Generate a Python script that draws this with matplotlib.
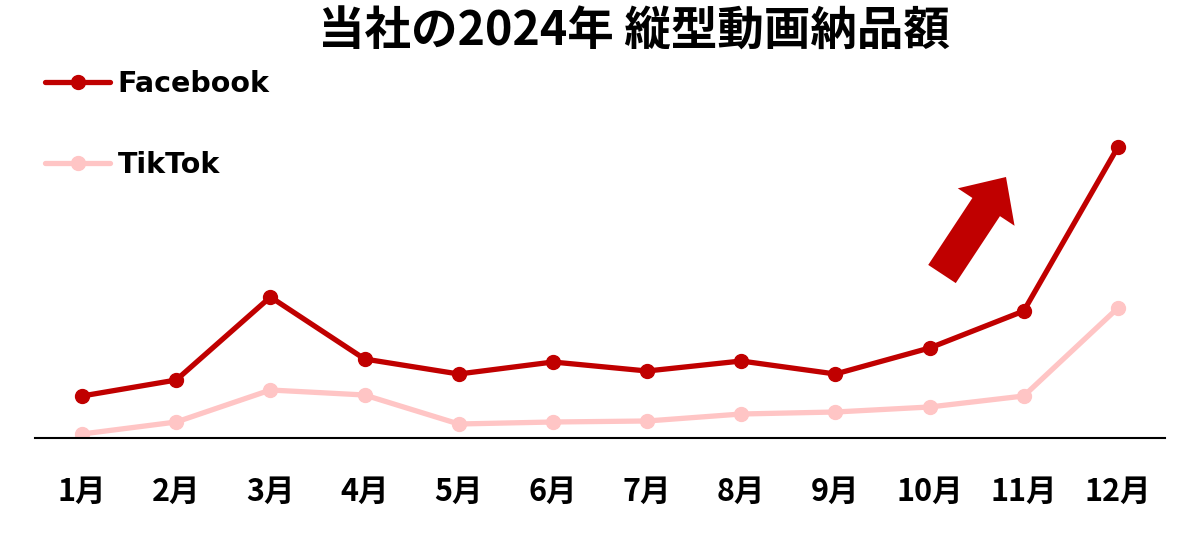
import matplotlib
matplotlib.use("Agg")
import matplotlib.pyplot as plt
from matplotlib.patches import FancyArrow
from matplotlib.transforms import IdentityTransform

plt.rcParams['font.family'] = ['Noto Sans CJK JP', 'DejaVu Sans']

months = ["1月", "2月", "3月", "4月", "5月", "6月", "7月", "8月", "9月", "10月", "11月", "12月"]
facebook = [42, 58, 141, 79, 64, 76, 67, 77, 64, 90, 127, 291]
tiktok = [4, 16, 48, 43, 14, 16, 17, 24, 26, 31, 42, 130]

fig = plt.figure(figsize=(12, 5.37), dpi=100)
ax = fig.add_axes([35/1200, (537-438)/537, 1130/1200, (438-130)/537])

x = list(range(len(months)))
ax.plot(x, tiktok, color="#FFC5C5", lw=3.8, marker="o", ms=10, label="TikTok",
        solid_capstyle="round")
ax.plot(x, facebook, color="#C00000", lw=3.8, marker="o", ms=10, label="Facebook",
        solid_capstyle="round")

ax.set_xlim(-0.5, 11.5)
ax.set_ylim(0, 308)
for s in ["top", "right", "left"]:
    ax.spines[s].set_visible(False)
ax.spines["bottom"].set_linewidth(1.5)
ax.set_yticks([])
ax.set_xticks(x)
ax.set_xticklabels(months, fontsize=22, fontweight="bold")
ax.tick_params(axis="x", length=0, pad=27)

handles, labels = ax.get_legend_handles_labels()
leg = fig.legend(handles[::-1], labels[::-1], loc="upper left",
                 bbox_to_anchor=(45/1200, (537-70)/537), frameon=False,
                 prop={"size": 20.5, "weight": "bold", "family": ["DejaVu Sans"]},
                 labelspacing=1.85, handlelength=2.3, handletextpad=0.25,
                 borderpad=0, borderaxespad=0)

fig.suptitle("当社の2024年 縦型動画納品額", fontsize=33.5, fontweight="bold",
             x=634/1200, y=1-8/537, va="top")

# decorative arrow in pixel coords
arr = FancyArrow(942, 537-274, 64, 97, width=33, head_width=68, head_length=36,
                 length_includes_head=True, color="#C00000", lw=0,
                 transform=IdentityTransform())
fig.patches.append(arr)

fig.savefig("out.png", dpi=100)
